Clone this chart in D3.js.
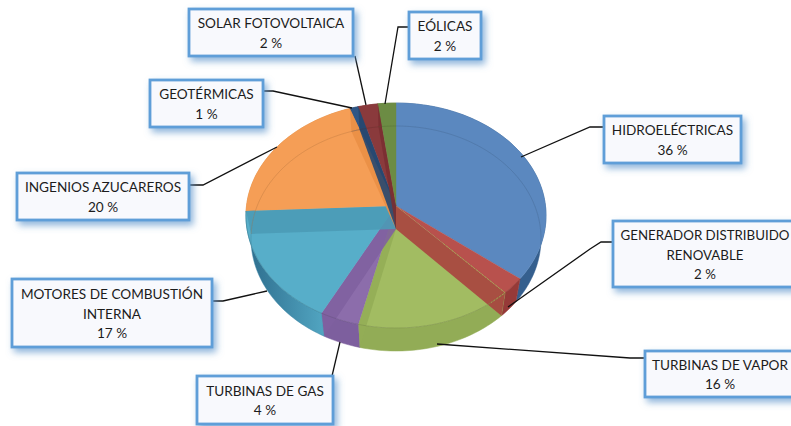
<!DOCTYPE html>
<html><head><meta charset="utf-8">
<script src="https://cdn.jsdelivr.net/npm/d3@7/dist/d3.min.js"></script>
<style>html,body{margin:0;padding:0;background:#fff;overflow:hidden}svg{display:block}</style>
</head><body><svg id="c" width="791" height="426"></svg>
<script>
// DATA (shown labels are the rounded percentages)
const categories = ["HIDROELÉCTRICAS","GENERADOR DISTRIBUIDO|RENOVABLE","TURBINAS DE VAPOR","TURBINAS DE GAS","MOTORES DE COMBUSTIÓN|INTERNA","INGENIOS AZUCAREROS","GEOTÉRMICAS","SOLAR FOTOVOLTAICA","EÓLICAS"];
const values = [35.6,2.4,15.7,3.9,16.7,20.3,1.0,2.3,2.1];
const topColors  = ["#5b88bf","#b8514d","#a2bc62","#8c6dab","#57aec9","#f59e56","#2f5685","#8a3a3c","#6c8c44"];
const wallColors = ["#3f6b9c","#a8423f","#93ad57","#7f60a0","#4b9bb6","#ea8f46","#27476f","#7a2f31","#5c7a38"];
const sideColors = ["#355f8e","#963a38","#92ac56","#7d5f9e","#3f89a8","#d9853c","#27476f","#7a2f31","#5c7a38"];

// LAYOUT
const geo = {cx:396, cy:206, A:149.5, B:111.7, k:0.0845, depth:23, baseInset:5};
const boxes = [
 [604,116,137,47],[613,221,190,66],[645,351,155,46],[197,376,136,48],
 [12,279,200,68],[17,173,172,47],[150,80,113,47],[189,9,164,47],[409,12,72,47]];
const leaders = [
 [[521,157],[590,127],[604,127]],[[508,307],[590,249],[601,242],[613,242]],
 [[437,344],[630,358],[645,358]],[[340,342],[332,376]],
 [[212,301],[223,301],[267,291]],[[189,185],[203,185],[277,147]],
 [[263,91],[273,91],[352,108]],[[355,56],[366,105]],[[409,27],[398,27],[385,104]]];

const svg = d3.select("#c");
const defs = svg.append("defs");
const f = defs.append("filter").attr("id","sh").attr("x","-20%").attr("y","-20%").attr("width","150%").attr("height","150%");
f.append("feDropShadow").attr("dx",3).attr("dy",4).attr("stdDeviation",3.5).attr("flood-color","#5f95cc").attr("flood-opacity",.7);
const wg = defs.append("linearGradient").attr("id","tealWall").attr("gradientUnits","userSpaceOnUse")
  .attr("x1",250).attr("x2",325).attr("y1",0).attr("y2",0);
wg.append("stop").attr("offset",0).attr("stop-color","#2f6f8f");
wg.append("stop").attr("offset",1).attr("stop-color","#52a6c2");

const arcs = d3.pie().sort(null).value(d=>d).startAngle(0).endAngle(2*Math.PI)(values);
function P(a,r,base){
  const u=r*Math.sin(a), v=-r*Math.cos(a), w=1-geo.k*v;
  const A=base?geo.A-geo.baseInset:geo.A;
  return [geo.cx+A*u/w, geo.cy+geo.B*v/w+(base?geo.depth:0)];
}
const line=d3.line();
const sample=(a0,a1,base)=>d3.range(0,1.0001,1/Math.max(6,Math.ceil((a1-a0)*40))).map(t=>P(a0+(a1-a0)*t,1,base));

const g=svg.append("g");
// Side walls
arcs.forEach((d,i)=>{
  const t=sample(d.startAngle,d.endAngle,false), b=sample(d.startAngle,d.endAngle,true).reverse();
  g.append("path").attr("d",line(t.concat(b))+"Z")
    .attr("fill",i===4?"url(#tealWall)":sideColors[i]).attr("stroke",i===4?"#3f89a8":sideColors[i]).attr("stroke-width",.5);
});
// Top faces
arcs.forEach((d,i)=>{
  g.append("path").attr("d",line([P(0,0,false)].concat(sample(d.startAngle,d.endAngle,false)))+"Z")
    .attr("fill",topColors[i]).attr("stroke",topColors[i]).attr("stroke-width",.4);
});
// Cut walls seen through the translucent top (every slice but the first)
arcs.forEach((d,i)=>{
  if(i===0) return;
  const q=[P(d.endAngle,1,false),P(0,0,false),P(0,0,true),P(d.endAngle,1,true)];
  g.append("path").attr("d",line(q)+"Z").attr("fill",wallColors[i]).attr("fill-opacity",.9);
});
// Hairlines of the base disc and of the top rim
const clip=defs.append("clipPath").attr("id","topClip");
clip.append("path").attr("d",line(sample(0,2*Math.PI,false))+"Z");
arcs.forEach((d,i)=>{
  g.append("path").attr("d",line(sample(d.startAngle,d.endAngle,true))).attr("fill","none")
    .attr("stroke",d3.color(topColors[i]).darker(1)).attr("stroke-opacity",.45).attr("stroke-width",.7).attr("clip-path","url(#topClip)");
  if(i>=1&&i<=4) g.append("path").attr("d",line(sample(d.startAngle,d.endAngle,false))).attr("fill","none")
    .attr("stroke",d3.color(topColors[i]).darker(.8)).attr("stroke-opacity",.7).attr("stroke-width",.8);
});
// Dashed boundary between the second and third slices
g.append("path").attr("d",line([P(arcs[1].endAngle,.45,false),P(arcs[1].endAngle,1,false),P(arcs[1].endAngle+.12,1,false)]))
  .attr("fill","none").attr("stroke","#a7a552").attr("stroke-width",.9).attr("stroke-dasharray","2 1.5");

// Leaders
svg.append("g").selectAll("path").data(leaders).join("path").attr("d",d=>line(d))
  .attr("fill","none").attr("stroke","#111").attr("stroke-width",1.3);

// Callouts
const lab=svg.append("g").selectAll("g").data(categories).join("g");
lab.append("rect").attr("x",(d,i)=>boxes[i][0]).attr("y",(d,i)=>boxes[i][1]).attr("width",(d,i)=>boxes[i][2]).attr("height",(d,i)=>boxes[i][3])
  .attr("fill","#f8f9fd").attr("stroke","#5f9ed8").attr("stroke-width",2.8).attr("filter","url(#sh)");
lab.each(function(d,i){
  const lines=d.split("|").concat(Math.round(values[i])+" %");
  const b=boxes[i], cx=b[0]+(i===1?92:i===2?75:b[2]/2);
  const y0=b[1]+b[3]/2-(lines.length-1)*19.5/2+5.6;
  d3.select(this).selectAll("text").data(lines).join("text")
    .attr("x",cx).attr("y",(l,j)=>y0+j*19.5).attr("text-anchor","middle")
    .attr("font-family","Lato, 'Open Sans', sans-serif").attr("font-size",i===1?13.3:13.6).attr("fill","#1c1c1c").text(l=>l);
});
</script></body></html>
